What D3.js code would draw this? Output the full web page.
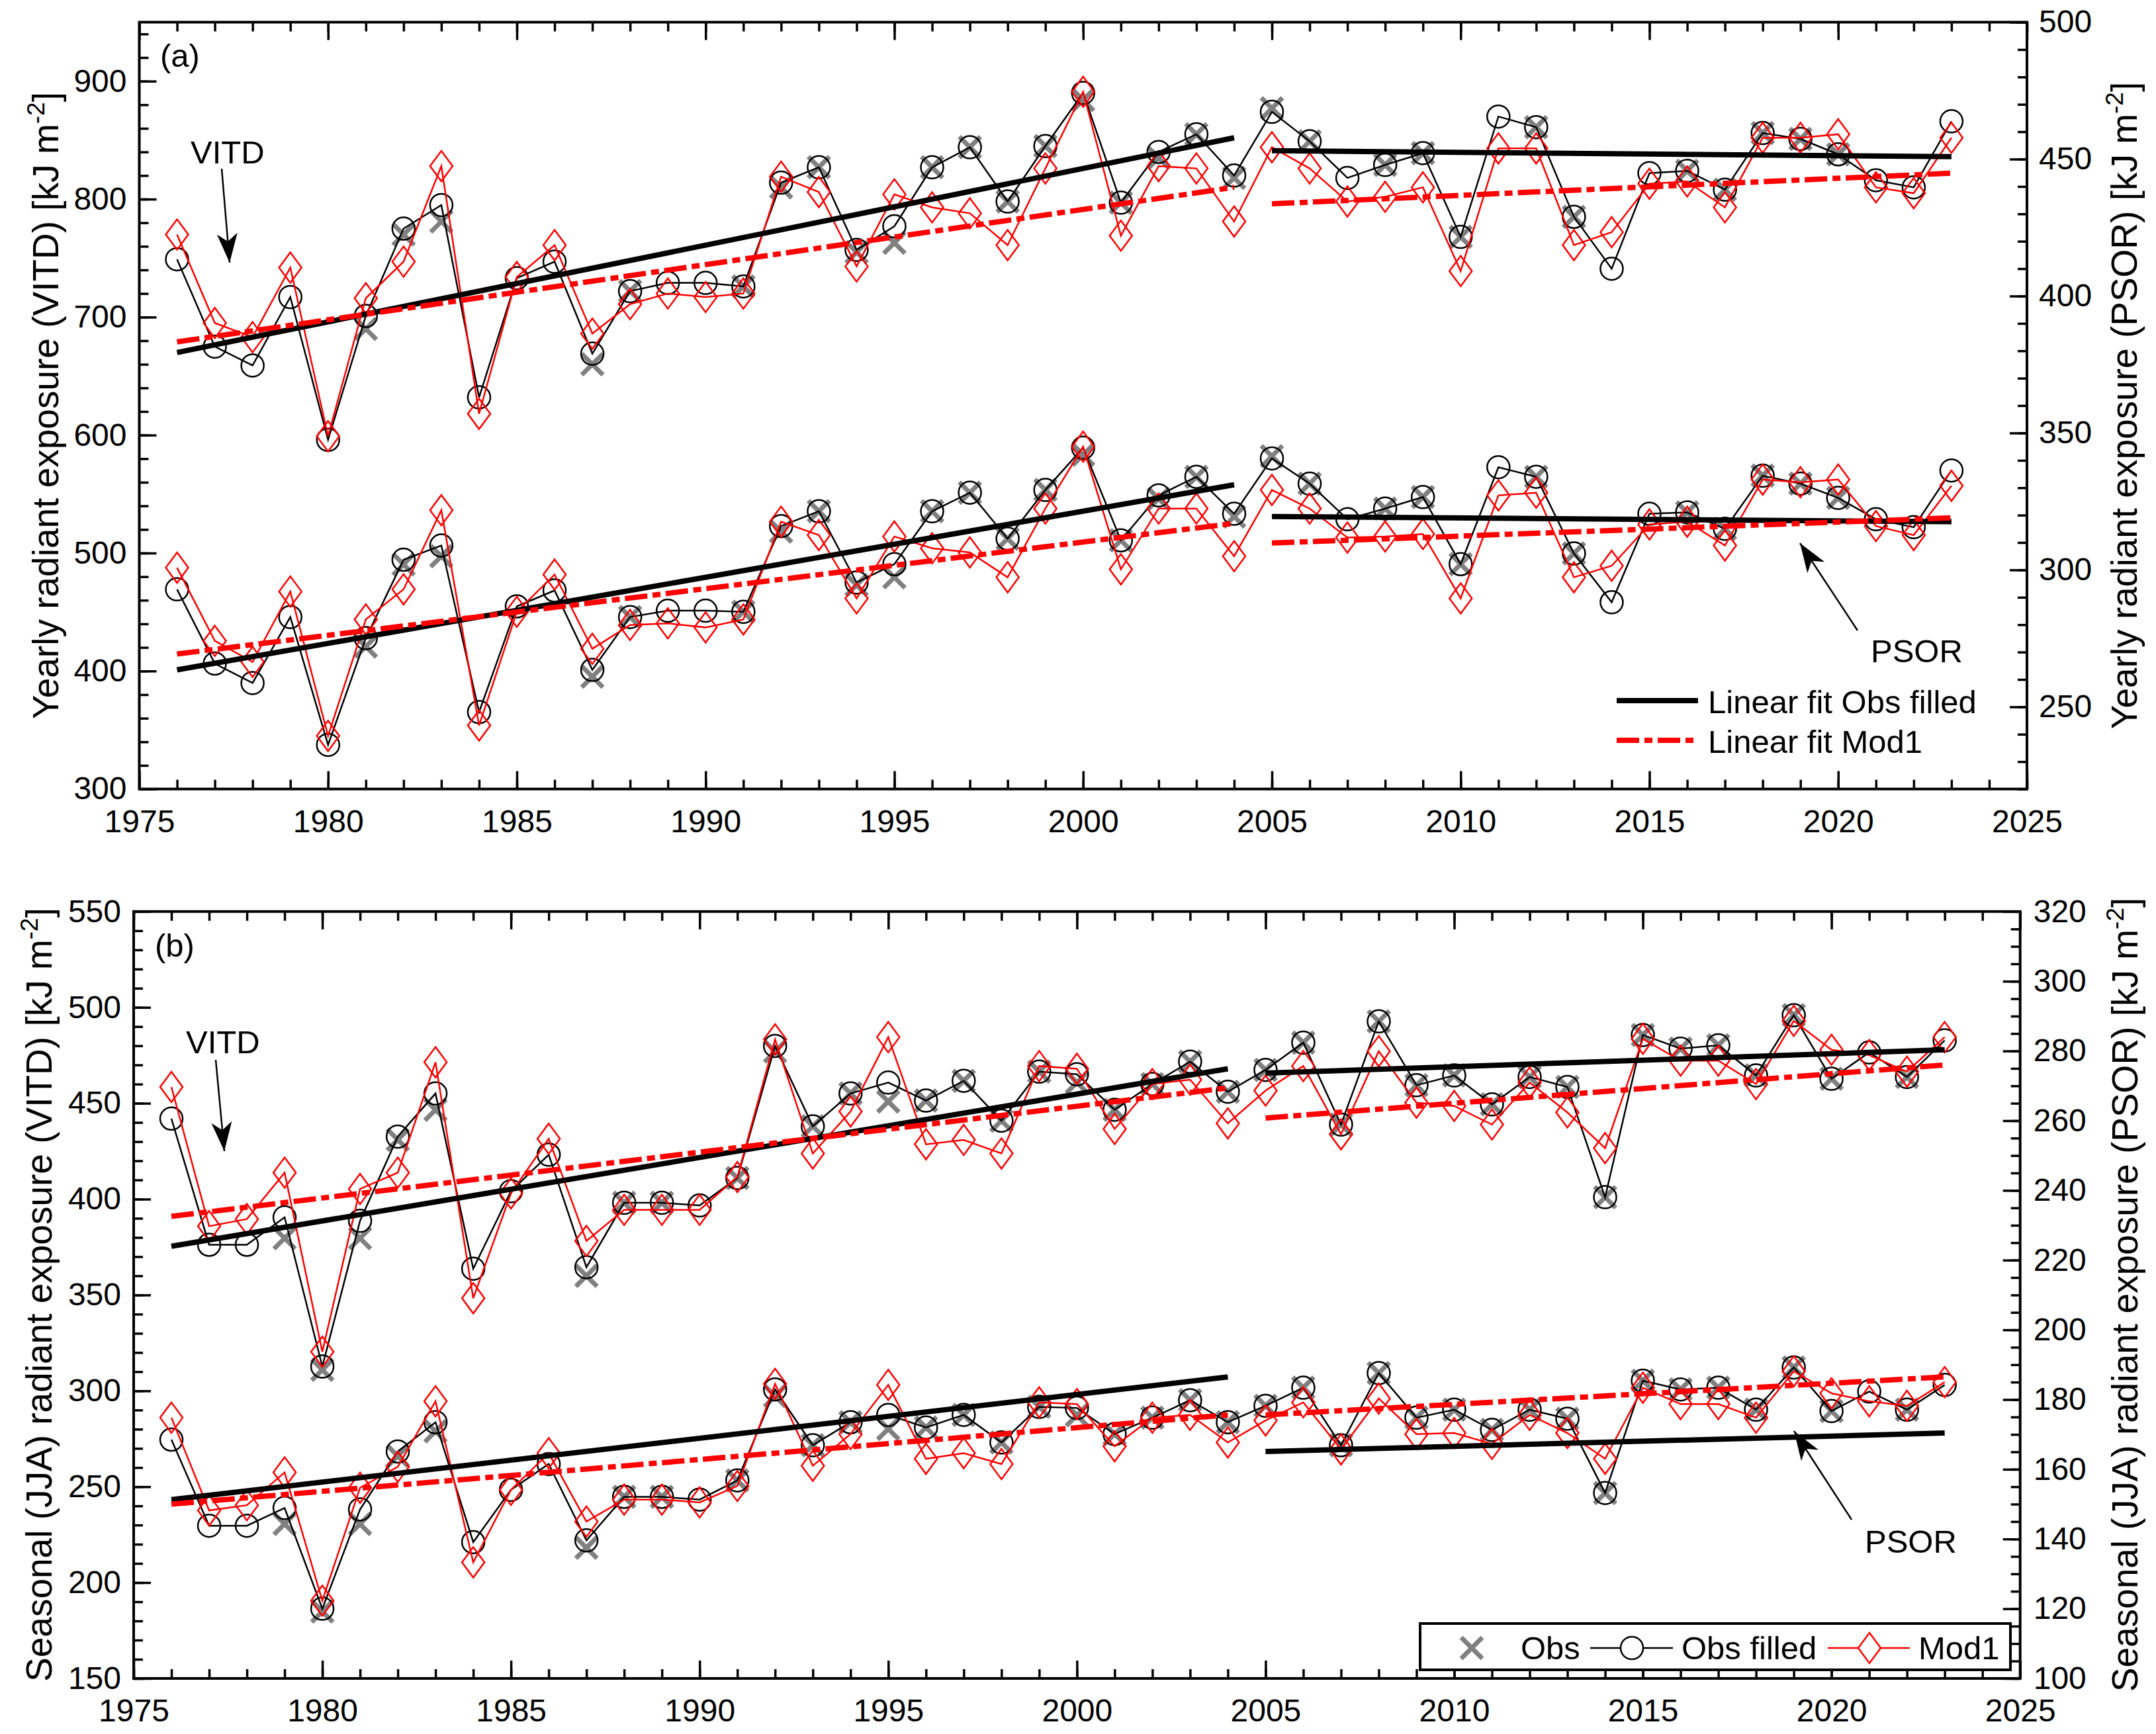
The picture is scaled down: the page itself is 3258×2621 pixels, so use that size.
<!DOCTYPE html>
<html lang="en">
<head>
  <meta charset="UTF-8">
  <title>Yearly and seasonal radiant exposure, VITD and PSOR</title>
  <script src="https://d3js.org/d3.v7.min.js"></script>
  <style>
    body { margin: 0; background: #fff; }
    svg { display: block; font-family: "Liberation Sans", Arial, sans-serif; }
  </style>
</head>
<body>
  <svg width="3258" height="2621"></svg>

  <script>
    // ---- data ----
    const years = [1976, 1977, 1978, 1979, 1980, 1981, 1982, 1983, 1984, 1985, 1986, 1987,
      1988, 1989, 1990, 1991, 1992, 1993, 1994, 1995, 1996, 1997, 1998, 1999,
      2000, 2001, 2002, 2003, 2004, 2005, 2006, 2007, 2008, 2009, 2010, 2011,
      2012, 2013, 2014, 2015, 2016, 2017, 2018, 2019, 2020, 2021, 2022, 2023];

    // (a) yearly, VITD (left axis)
    const yearVitdFilled = [749, 675, 659, 717, 596, 701, 775, 795, 632, 733, 747, 669,
      722, 729, 729, 726, 814, 827, 757, 777, 827, 844, 798, 845,
      890, 797, 840, 855, 820, 874, 849, 818, 829, 839, 768, 870,
      861, 785, 741, 822, 824, 808, 856, 851, 838, 816, 810, 866];
    const yearVitdMod = [770, 695, 683, 742, 599, 716, 747, 828, 618, 734, 761, 686,
      711, 720, 717, 720, 819, 806, 743, 804, 793, 788, 761, 826,
      891, 769, 828, 826, 781, 844, 826, 798, 802, 810, 739, 843,
      843, 761, 772, 813, 815, 793, 852, 852, 855, 810, 805, 852];
    const yearVitdObs = [null, null, null, null, null, 690, 770, 781, null, null, null, 660,
      722, null, null, 726, 810, 827, 755, 763, 827, 844, 798, 845,
      884, 797, 835, 855, 818, 877, 849, null, 829, 839, 768, null,
      861, 785, null, null, 824, 808, 856, 851, 838, null, null, null];

    // (a) yearly, PSOR (right axis)
    const yearPsorFilled = [292.9, 265.8, 258.7, 282.8, 236.1, 275.1, 303.7, 308.9, 248.1, 286.7, 292.5, 263.5,
      282.8, 285.1, 285.1, 284.7, 316.0, 321.4, 295.4, 302.1, 321.4, 328.2, 311.4, 329.2,
      344.6, 310.8, 327.2, 334.0, 320.5, 340.7, 331.5, 318.5, 322.4, 326.6, 302.1, 337.5,
      334.0, 306.0, 288.2, 320.5, 321.0, 315.0, 334.4, 331.5, 326.3, 318.5, 315.6, 336.3];
    const yearPsorMod = [300.8, 274.1, 266.4, 292.1, 239.4, 281.9, 292.9, 321.8, 243.2, 284.7, 298.3, 271.2,
      279.9, 280.5, 279.0, 281.9, 317.6, 312.7, 289.6, 312.2, 307.9, 306.4, 297.3, 322.4,
      345.0, 300.2, 322.4, 322.4, 305.0, 329.2, 322.4, 311.8, 312.2, 313.1, 289.6, 327.2,
      328.2, 297.3, 301.5, 316.6, 317.6, 308.9, 333.0, 332.0, 333.0, 316.0, 312.7, 330.7];
    const yearPsorObs = [null, null, null, null, null, 272.0, 302.0, 305.0, null, null, null, 261.0,
      282.8, null, null, 284.7, 314.0, 321.4, 294.5, 297.3, 321.4, 328.2, 311.4, 329.2,
      342.0, 310.8, 326.0, 334.0, 319.5, 341.5, 331.5, null, 322.4, 326.6, 302.1, null,
      334.0, 306.0, null, null, 321.0, 315.0, 334.4, 331.5, 326.3, null, null, null];

    // (b) seasonal JJA, VITD (left axis)
    const jjaVitdFilled = [442.0, 376.2, 376.2, 390.5, 312.7, 388.7, 432.6, 455.1, 363.7, 404.1, 423.2, 364.5,
      398.1, 398.1, 396.7, 411.0, 479.9, 438.0, 455.1, 460.8, 451.4, 461.7, 440.9, 466.5,
      465.1, 446.6, 460.0, 471.7, 456.0, 467.4, 481.6, 438.9, 492.7, 459.4, 464.5, 449.4,
      463.7, 458.5, 401.0, 485.6, 478.5, 480.2, 464.5, 495.9, 462.8, 476.5, 463.7, 482.8];
    const jjaVitdMod = [458.5, 385.9, 389.6, 413.8, 320.4, 405.3, 413.8, 471.4, 348.3, 403.0, 431.5, 378.2,
      394.4, 394.4, 394.4, 411.5, 483.3, 423.8, 445.7, 484.5, 428.6, 430.9, 423.8, 469.4,
      468.0, 436.6, 460.0, 462.3, 439.5, 456.6, 469.4, 433.8, 477.1, 450.3, 448.6, 438.9,
      460.8, 445.2, 426.6, 483.6, 472.2, 472.2, 460.0, 493.0, 477.9, 475.1, 466.5, 484.5];
    const jjaVitdObs = [null, null, null, 379.6, 311.0, 379.6, 431.0, 446.6, null, null, null, 360.0,
      398.1, 398.1, null, 411.0, 477.0, 438.0, 455.1, 450.9, 451.4, 461.7, 440.9, 466.5,
      460.8, 446.6, 460.0, 471.7, 456.0, 467.4, 481.6, 438.9, 492.7, 459.4, 464.5, 449.4,
      463.7, 458.5, 401.0, 485.6, 478.5, 480.2, 464.5, 495.9, 462.8, null, 463.7, null];

    // (b) seasonal JJA, PSOR (right axis)
    const jjaPsorFilled = [168.5, 143.8, 143.8, 148.9, 120.0, 148.5, 165.1, 173.5, 139.1, 154.1, 161.5, 139.6,
      152.1, 152.1, 151.3, 156.8, 182.9, 166.9, 173.5, 175.6, 172.0, 175.6, 167.7, 177.9,
      177.6, 170.1, 174.8, 179.8, 173.5, 178.2, 183.4, 166.9, 187.6, 174.8, 177.1, 171.3,
      177.1, 174.5, 153.2, 185.4, 182.9, 183.4, 177.1, 189.2, 176.7, 182.3, 177.1, 184.2];
    const jjaPsorMod = [174.8, 148.2, 149.7, 159.1, 122.3, 154.7, 160.7, 179.5, 133.3, 154.1, 164.6, 145.0,
      151.3, 151.3, 150.5, 155.2, 184.5, 161.0, 170.1, 184.2, 163.0, 164.6, 161.5, 179.2,
      178.7, 166.6, 174.8, 175.6, 167.7, 174.0, 179.2, 165.7, 180.3, 170.1, 170.4, 167.3,
      175.6, 170.4, 163.0, 183.4, 178.7, 178.7, 174.8, 188.1, 181.8, 179.5, 178.2, 185.0];
    const jjaPsorObs = [null, null, null, 144.3, 119.2, 144.3, 163.8, 170.9, null, null, null, 137.5,
      152.1, 152.1, null, 156.8, 181.0, 166.9, 173.5, 171.6, 172.0, 175.6, 167.7, 177.9,
      175.5, 170.1, 174.8, 179.8, 173.5, 178.2, 183.4, 166.9, 187.6, 174.8, 177.1, 171.3,
      177.1, 174.5, 153.2, 185.4, 182.9, 183.4, 177.1, 189.2, 176.7, null, 177.1, null];

    // linear fits: two periods, start and end value of each
    const fitPeriods = [[1976, 2004], [2005, 2023]];
    const yearVitdFitObs = [[670, 852], [841, 836]];
    const yearVitdFitMod = [[679, 810], [796, 822]];
    const yearPsorFitObs = [[263.5, 331.1], [319.5, 317.6]];
    const yearPsorFitMod = [[269.3, 317.0], [309.8, 319.0]];
    const jjaVitdFitObs = [[375.4, 468.0], [465.7, 477.9]];
    const jjaVitdFitMod = [[391.0, 458.0], [442.3, 470.0]];
    const jjaPsorFitObs = [[151.3, 186.5], [165.1, 170.4]];
    const jjaPsorFitMod = [[150.0, 175.6], [175.6, 186.5]];

    // tick labels
    const xTicks = [1975, 1980, 1985, 1990, 1995, 2000, 2005, 2010, 2015, 2020, 2025];
    const yearLeftTicks = [300, 400, 500, 600, 700, 800, 900];
    const yearRightTicks = [250, 300, 350, 400, 450, 500];
    const jjaLeftTicks = [150, 200, 250, 300, 350, 400, 450, 500, 550];
    const jjaRightTicks = [100, 120, 140, 160, 180, 200, 220, 240, 260, 280, 300, 320];

    // ---- drawing ----
    const svg = d3.select("svg");
    const FONT = 48;       // tick labels
    const TEXT = 49;       // legend and notes
    const TITLE = 55;      // axis titles
    const RED = "#ff0000";
    const GREY = "#808080";

    const diamondPath = "M0,-23L17,0L0,23L-17,0Z";
    const crossPath = "M-16,-16L16,16M-16,16L16,-16";

    function series(g, x, y, filled, mod, obs) {
      const pts = vals => years.map((yr, i) => ({ yr: yr, v: vals[i] })).filter(d => d.v != null);
      const line = d3.line().x(d => x(d.yr)).y(d => y(d.v));

      // Obs (grey crosses)
      g.append("g").selectAll("path")
        .data(pts(obs))
        .enter().append("path")
        .attr("d", crossPath)
        .attr("transform", d => "translate(" + x(d.yr) + "," + y(d.v) + ")")
        .attr("fill", "none")
        .attr("stroke", GREY)
        .attr("stroke-width", 7);

      // Obs filled (black line + open circles)
      g.append("path")
        .datum(pts(filled))
        .attr("d", line)
        .attr("fill", "none")
        .attr("stroke", "#000")
        .attr("stroke-width", 2.5);
      g.append("g").selectAll("circle")
        .data(pts(filled))
        .enter().append("circle")
        .attr("cx", d => x(d.yr))
        .attr("cy", d => y(d.v))
        .attr("r", 17)
        .attr("fill", "none")
        .attr("stroke", "#000")
        .attr("stroke-width", 2.5);

      // Mod1 (red line + open diamonds)
      g.append("path")
        .datum(pts(mod))
        .attr("d", line)
        .attr("fill", "none")
        .attr("stroke", RED)
        .attr("stroke-width", 2.5);
      g.append("g").selectAll("path")
        .data(pts(mod))
        .enter().append("path")
        .attr("d", diamondPath)
        .attr("transform", d => "translate(" + x(d.yr) + "," + y(d.v) + ")")
        .attr("fill", "none")
        .attr("stroke", RED)
        .attr("stroke-width", 2.5);
    }

    function fits(g, x, y, vals, color, dash) {
      const line = d3.line().x(d => x(d[0])).y(d => y(d[1]));
      fitPeriods.forEach((p, i) => {
        g.append("path")
          .datum([[p[0], vals[i][0]], [p[1], vals[i][1]]])
          .attr("d", line)
          .attr("fill", "none")
          .attr("stroke", color)
          .attr("stroke-width", 8)
          .attr("stroke-dasharray", dash);
      });
    }

    function styleAxis(sel) {
      sel.select(".domain").remove();
      sel.selectAll("line").attr("stroke-width", 3.5);
      sel.selectAll("text")
        .style("font-size", FONT + "px")
        .style("font-family", '"Liberation Sans", Arial, sans-serif')
        .attr("fill", "#000");
    }

    function axes(c, x, yL, yR) {
      const g = svg.append("g");
      const minorX = d3.range(1975, 2026, 1);

      g.append("g").attr("transform", "translate(0," + c.bottom + ")")
        .call(d3.axisBottom(x).tickValues(minorX).tickSize(-14).tickSizeOuter(0).tickFormat(""))
        .call(styleAxis);
      g.append("g").attr("transform", "translate(0," + c.bottom + ")")
        .call(d3.axisBottom(x).tickValues(xTicks).tickSize(-27).tickSizeOuter(0).tickPadding(31).tickFormat(d3.format("d")))
        .call(styleAxis);
      g.append("g").attr("transform", "translate(0," + c.top + ")")
        .call(d3.axisTop(x).tickValues(minorX).tickSize(-14).tickSizeOuter(0).tickFormat(""))
        .call(styleAxis);
      g.append("g").attr("transform", "translate(0," + c.top + ")")
        .call(d3.axisTop(x).tickValues(xTicks).tickSize(-27).tickSizeOuter(0).tickFormat(""))
        .call(styleAxis);

      g.append("g").attr("transform", "translate(" + c.left + ",0)")
        .call(d3.axisLeft(yL).tickValues(d3.range(c.leftDomain[0], c.leftDomain[1] + 0.1, c.leftMinor)).tickSize(-14).tickSizeOuter(0).tickFormat(""))
        .call(styleAxis);
      g.append("g").attr("transform", "translate(" + c.left + ",0)")
        .call(d3.axisLeft(yL).tickValues(c.leftTicks).tickSize(-26).tickSizeOuter(0).tickPadding(19))
        .call(styleAxis);

      g.append("g").attr("transform", "translate(" + c.right + ",0)")
        .call(d3.axisRight(yR).tickValues(d3.range(c.rightDomain[0], c.rightDomain[1] + 0.1, c.rightMinor)).tickSize(-14).tickSizeOuter(0).tickFormat(""))
        .call(styleAxis);
      g.append("g").attr("transform", "translate(" + c.right + ",0)")
        .call(d3.axisRight(yR).tickValues(c.rightTicks).tickSize(-26).tickSizeOuter(0).tickPadding(c.rightPad))
        .call(styleAxis);

      g.append("rect")
        .attr("x", c.left).attr("y", c.top)
        .attr("width", c.right - c.left).attr("height", c.bottom - c.top)
        .attr("fill", "none").attr("stroke", "#000").attr("stroke-width", 4);
    }

    function vTitle(xBase, cy, main) {
      const t = svg.append("text")
        .attr("transform", "translate(" + xBase + "," + cy + ") rotate(-90)")
        .attr("text-anchor", "middle")
        .style("font-size", TITLE + "px");
      t.append("tspan").text(main);
      t.append("tspan").attr("dy", -21).style("font-size", "37px").text("-2");
      t.append("tspan").attr("dy", 21).text("]");
    }

    function label(x, y, txt) {
      svg.append("text").attr("x", x).attr("y", y).style("font-size", TEXT + "px").text(txt);
    }

    function arrow(x1, y1, x2, y2) {
      svg.append("line")
        .attr("x1", x1).attr("y1", y1).attr("x2", x2).attr("y2", y2)
        .attr("stroke", "#000").attr("stroke-width", 2.5);
      const a = Math.atan2(y2 - y1, x2 - x1) * 180 / Math.PI;
      svg.append("path")
        .attr("d", "M0,0L-44,-15.5L-32,0L-44,15.5Z")
        .attr("transform", "translate(" + x2 + "," + y2 + ") rotate(" + a + ")")
        .attr("fill", "#000");
    }

    function panel(c, d) {
      const x = d3.scaleLinear().domain([1975, 2025]).range([c.left, c.right]);
      const yL = d3.scaleLinear().domain(c.leftDomain).range([c.bottom, c.top]);
      const yR = d3.scaleLinear().domain(c.rightDomain).range([c.bottom, c.top]);

      axes(c, x, yL, yR);

      const g = svg.append("g");
      series(g, x, yL, d.vFilled, d.vMod, d.vObs);
      series(g, x, yR, d.pFilled, d.pMod, d.pObs);
      fits(g, x, yL, d.vFitObs, "#000", null);
      fits(g, x, yR, d.pFitObs, "#000", null);
      fits(g, x, yL, d.vFitMod, RED, "34,8,12,8");
      fits(g, x, yR, d.pFitMod, RED, "34,8,12,8");
    }

    // ---- panel (a) ----
    panel({
      left: 210.5, right: 3063, top: 33.5, bottom: 1192.6,
      leftDomain: [300, 950], leftTicks: yearLeftTicks, leftMinor: 20,
      rightDomain: [220, 500], rightTicks: yearRightTicks, rightMinor: 10, rightPad: 18
    }, {
      vFilled: yearVitdFilled, vMod: yearVitdMod, vObs: yearVitdObs,
      pFilled: yearPsorFilled, pMod: yearPsorMod, pObs: yearPsorObs,
      vFitObs: yearVitdFitObs, vFitMod: yearVitdFitMod,
      pFitObs: yearPsorFitObs, pFitMod: yearPsorFitMod
    });

    vTitle(88, 613, "Yearly radiant exposure (VITD) [kJ m");
    vTitle(3229, 613, "Yearly radiant exposure (PSOR) [kJ m");
    label(242, 101, "(a)");
    label(288, 247, "VITD");
    arrow(335, 255, 347, 397);
    label(2827, 1001, "PSOR");
    arrow(2807, 953, 2720, 821);

    // legend (a)
    svg.append("line").attr("x1", 2443).attr("x2", 2566).attr("y1", 1059).attr("y2", 1059)
      .attr("stroke", "#000").attr("stroke-width", 8);
    label(2581, 1078, "Linear fit Obs filled");
    svg.append("line").attr("x1", 2443).attr("x2", 2566).attr("y1", 1119).attr("y2", 1119)
      .attr("stroke", RED).attr("stroke-width", 8).attr("stroke-dasharray", "34,8,12,8");
    label(2581, 1138, "Linear fit Mod1");

    // ---- panel (b) ----
    panel({
      left: 202, right: 3052.7, top: 1377.8, bottom: 2537,
      leftDomain: [150, 550], leftTicks: jjaLeftTicks, leftMinor: 10,
      rightDomain: [100, 320], rightTicks: jjaRightTicks, rightMinor: 5, rightPad: 20
    }, {
      vFilled: jjaVitdFilled, vMod: jjaVitdMod, vObs: jjaVitdObs,
      pFilled: jjaPsorFilled, pMod: jjaPsorMod, pObs: jjaPsorObs,
      vFitObs: jjaVitdFitObs, vFitMod: jjaVitdFitMod,
      pFitObs: jjaPsorFitObs, pFitMod: jjaPsorFitMod
    });

    vTitle(78, 1957, "Seasonal (JJA) radiant exposure (VITD) [kJ m");
    vTitle(3230, 1957, "Seasonal (JJA) radiant exposure (PSOR) [kJ m");
    label(234, 1446, "(b)");
    label(281, 1592, "VITD");
    arrow(326, 1602, 339, 1740);
    label(2818, 2347, "PSOR");
    arrow(2798, 2297, 2711, 2163);

    // legend (b)
    const ly = 2491;
    svg.append("rect").attr("x", 2146).attr("y", 2454).attr("width", 892).attr("height", 70)
      .attr("fill", "#fff").attr("stroke", "#000").attr("stroke-width", 4);
    svg.append("path").attr("d", crossPath).attr("transform", "translate(2224," + ly + ")")
      .attr("fill", "none").attr("stroke", GREY).attr("stroke-width", 7);
    label(2298, ly + 17, "Obs");
    svg.append("line").attr("x1", 2403).attr("x2", 2528).attr("y1", ly).attr("y2", ly)
      .attr("stroke", "#000").attr("stroke-width", 2.5);
    svg.append("circle").attr("cx", 2466).attr("cy", ly).attr("r", 17)
      .attr("fill", "#fff").attr("stroke", "#000").attr("stroke-width", 2.5);
    label(2541, ly + 17, "Obs filled");
    svg.append("line").attr("x1", 2762).attr("x2", 2886).attr("y1", ly).attr("y2", ly)
      .attr("stroke", RED).attr("stroke-width", 2.5);
    svg.append("path").attr("d", diamondPath).attr("transform", "translate(2825," + ly + ")")
      .attr("fill", "#fff").attr("stroke", RED).attr("stroke-width", 2.5);
    label(2899, ly + 17, "Mod1");
  </script>
</body>
</html>
